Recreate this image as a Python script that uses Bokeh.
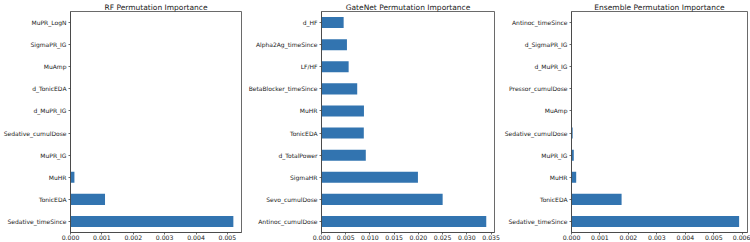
from bokeh.plotting import figure
from bokeh.layouts import row
from bokeh.models import FactorRange, Range1d, FixedTicker, PrintfTickFormatter, ColumnDataSource
from bokeh.embed import file_html
from bokeh.resources import INLINE

rf_features = ["Sedative_timeSince", "TonicEDA", "MuHR", "MuPR_IG", "Sedative_cumulDose",
               "d_MuPR_IG", "d_TonicEDA", "MuAmp", "SigmaPR_IG", "MuPR_LogN"]
rf_values = [0.00519, 0.0011, 0.000125, 0.0, 0.0, 0.0, 0.0, 0.0, 0.0, 0.0]

gn_features = ["Antinoc_cumulDose", "Sevo_cumulDose", "SigmaHR", "d_TotalPower", "TonicEDA",
               "MuHR", "BetaBlocker_timeSince", "LF/HF", "Alpha2Ag_timeSince", "d_HF"]
gn_values = [0.0340, 0.0250, 0.0199, 0.00914, 0.00873, 0.00876, 0.00737, 0.0056, 0.00525, 0.00457]

en_features = ["Sedative_timeSince", "TonicEDA", "MuHR", "MuPR_IG", "Sedative_cumulDose",
               "MuAmp", "Pressor_cumulDose", "d_MuPR_IG", "d_SigmaPR_IG", "Antinoc_timeSince"]
en_values = [0.00589, 0.00176, 0.000165, 0.00008, 0.00004, 0.0, 0.0, 0.0, 0.0, 0.0]

rf_ticks = [0.0, 0.001, 0.002, 0.003, 0.004, 0.005]
gn_ticks = [0.0, 0.005, 0.01, 0.015, 0.02, 0.025, 0.03, 0.035]
en_ticks = [0.0, 0.001, 0.002, 0.003, 0.004, 0.005, 0.006]

titles = ["RF Permutation Importance", "GateNet Permutation Importance", "Ensemble Permutation Importance"]

BAR = "#3274b0"
SPINE = "#444444"
TEXT = "#1a1a1a"


def make_panel(title, feats, vals, ticks, width, left, right):
    xmax = max(vals) * 1.05
    p = figure(width=width, height=242, y_range=FactorRange(factors=feats, range_padding=0),
               x_range=Range1d(0, xmax), output_backend="svg", toolbar_location=None,
               min_border_left=left, min_border_right=right, min_border_top=1, min_border_bottom=0)
    src = ColumnDataSource(dict(f=feats, v=vals))
    p.hbar(y="f", right="v", left=0, height=0.5, source=src, color=BAR, line_color=None)
    p.title.text = title
    p.title.align = "center"
    p.title.text_font = "DejaVu Sans"
    p.title.text_font_size = "7.5px"
    p.title.text_font_style = "normal"
    p.title.text_color = TEXT
    p.title.standoff = 0
    p.title.offset = 0
    p.xgrid.visible = False
    p.ygrid.visible = False
    p.outline_line_color = SPINE
    p.outline_line_width = 0.8
    for ax in (p.xaxis[0], p.yaxis[0]):
        ax.axis_line_color = SPINE
        ax.axis_line_width = 0.8
        ax.major_tick_line_color = SPINE
        ax.major_tick_line_width = 0.8
        ax.major_tick_out = 2
        ax.major_tick_in = 0
        ax.minor_tick_line_color = None
        ax.major_label_text_font = "DejaVu Sans"
        ax.major_label_text_color = TEXT
        ax.major_label_standoff = 2
    p.yaxis[0].major_label_text_font_size = "6px"
    p.xaxis[0].major_label_text_font_size = "6.2px"
    p.xaxis[0].major_label_standoff = 0
    p.xaxis[0].ticker = FixedTicker(ticks=ticks)
    p.xaxis[0].formatter = PrintfTickFormatter(format="%.3f")
    p.background_fill_color = "white"
    p.border_fill_color = "white"
    return p


p1 = make_panel(titles[0], rf_features, rf_values, rf_ticks, 245, 67, 4)
p2 = make_panel(titles[1], gn_features, gn_values, gn_ticks, 255, 74, 6)
p3 = make_panel(titles[2], en_features, en_values, en_ticks, 250, 71, 3)

layout = row(p1, p2, p3, spacing=0)
open("out.html", "w").write(file_html(layout, INLINE))
